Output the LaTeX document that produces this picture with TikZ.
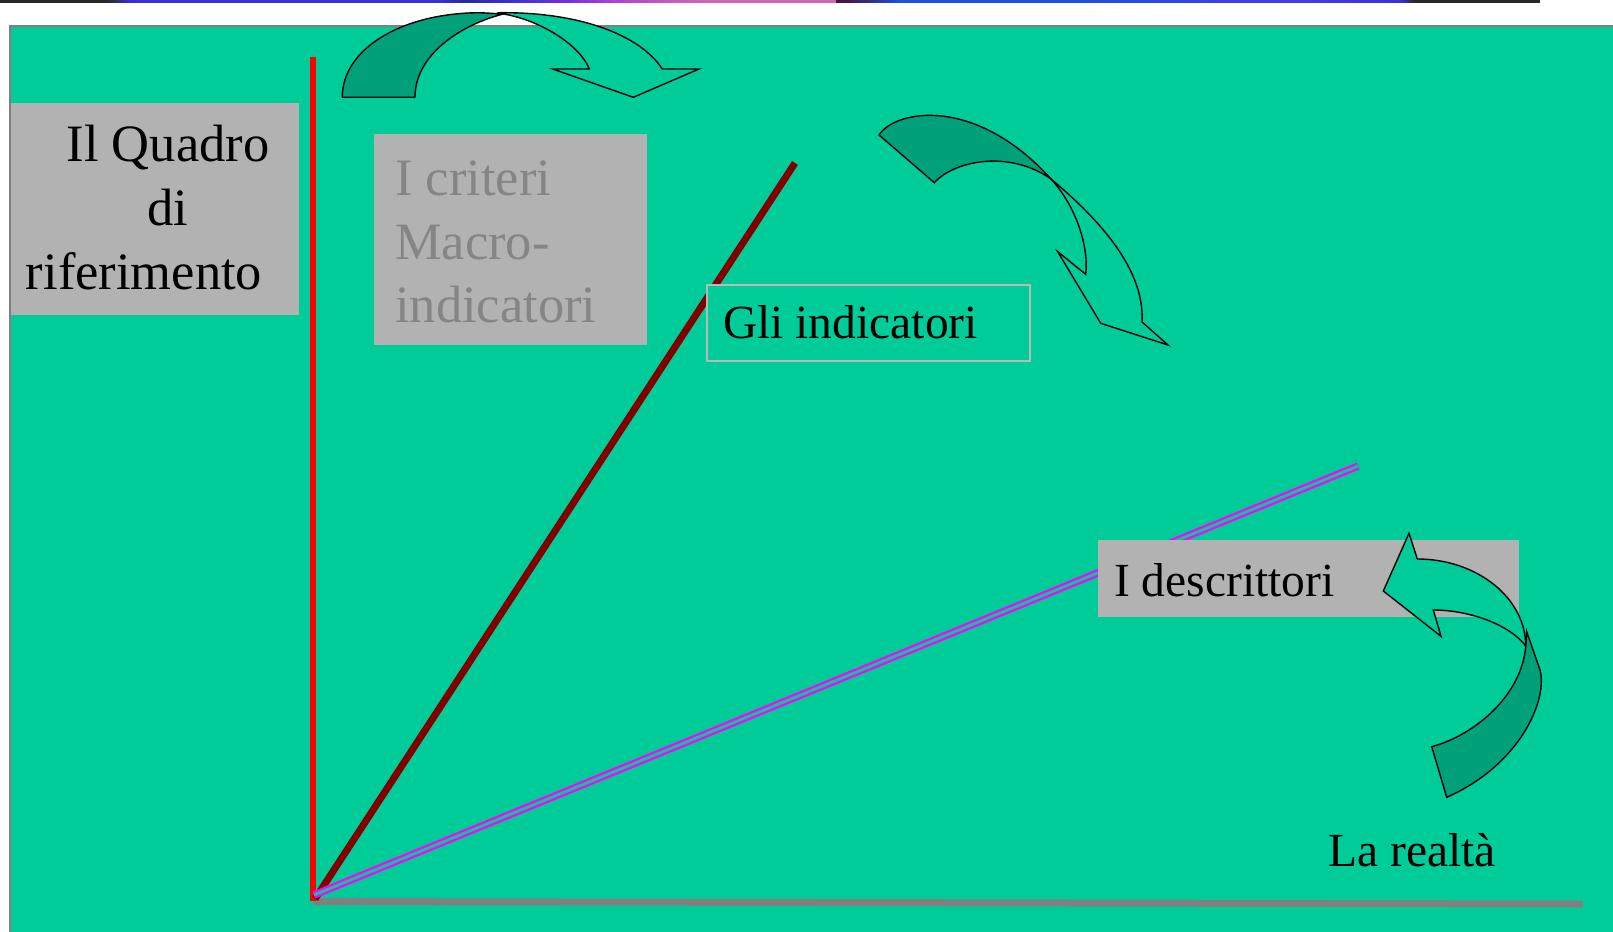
\documentclass[tikz,border=0pt]{standalone}
\usepackage{fontspec}
\setmainfont{Liberation Serif}
\definecolor{bggreen}{RGB}{0,204,153}
\definecolor{arrowgreen}{RGB}{0,160,122}
\definecolor{boxgray}{RGB}{178,178,178}
\definecolor{critgray}{RGB}{133,133,133}
\definecolor{edgegray}{RGB}{185,185,185}
\definecolor{panelgray}{RGB}{128,128,128}
\definecolor{axisgray}{RGB}{128,128,128}
\definecolor{axisred}{RGB}{255,0,0}
\definecolor{maroonline}{RGB}{128,0,0}
\definecolor{magline}{RGB}{255,0,255}
\definecolor{bandgray}{RGB}{40,40,40}
\definecolor{bandblue}{RGB}{58,48,216}
\definecolor{banddkblue}{RGB}{40,40,150}
\definecolor{bandviolet}{RGB}{120,48,224}
\definecolor{bandmag}{RGB}{176,64,208}
\definecolor{bandpink}{RGB}{208,100,184}
\definecolor{banddkpurple}{RGB}{70,20,70}
\definecolor{bandblueb}{RGB}{32,80,224}
\definecolor{bandvioletb}{RGB}{70,60,230}
\begin{document}
\begin{tikzpicture}[x=1pt,y=-1pt,
  bigtxt/.style={font=\fontsize{52.5}{63.7}\selectfont, inner sep=0pt},
  midtxt/.style={font=\fontsize{47.5}{57}\selectfont, inner sep=0pt, anchor=base west},
  graybox/.style={fill=boxgray, draw=none, inner sep=0pt, anchor=north west},
  arrowdark/.style={fill=arrowgreen, draw=black, line width=1.4pt, line join=miter},
  arrowlight/.style={fill=bggreen, draw=black, line width=1.4pt, line join=miter},
  bandseg/.style={draw=none}
]
\useasboundingbox (0,0) rectangle (1613,931);
\clip (0,0) rectangle (1613,931);
\fill[white] (0,0) rectangle (1613,931);
% top colour band
\fill[bandgray] (0,0) rectangle (107,3);
\shade[bandseg, left color=bandgray, right color=bandblue] (107,0) rectangle (130,3);
\fill[bandblue] (130,0) rectangle (440,3);
\shade[bandseg, left color=bandblue, right color=banddkblue] (440,0) rectangle (465,3);
\shade[bandseg, left color=banddkblue, right color=bandblue] (465,0) rectangle (510,3);
\shade[bandseg, left color=bandblue, right color=bandviolet] (510,0) rectangle (571,3);
\shade[bandseg, left color=bandviolet, right color=bandmag] (571,0) rectangle (612,3);
\shade[bandseg, left color=bandmag, right color=bandpink] (612,0) rectangle (700,3);
\fill[bandpink] (700,0) rectangle (836,3);
\fill[banddkpurple] (836,0) rectangle (846,3);
\shade[bandseg, left color=banddkpurple, right color=bandblueb] (846,0) rectangle (900,3);
\fill[bandblueb] (900,0) rectangle (1080,3);
\shade[bandseg, left color=bandblueb, right color=bandvioletb] (1080,0) rectangle (1300,3);
\shade[bandseg, left color=bandvioletb, right color=bandblue] (1300,0) rectangle (1400,3);
\shade[bandseg, left color=bandblue, right color=bandgray] (1400,0) rectangle (1415,3);
\fill[bandgray] (1415,0) rectangle (1540,3);
% panel
\draw[fill=bggreen, draw=panelgray, line width=2pt] (9.5,26) rectangle (1630,950);
% axes and lines
\coordinate (redtop) at (313,57);
\coordinate (redbot) at (313,901);
\coordinate (grayleft) at (314,901.5);
\coordinate (grayright) at (1583,904);
\coordinate (marbot) at (315,899);
\coordinate (martop) at (795,163);
\coordinate (magbot) at (314,895);
\coordinate (magtop) at (1358,466);
\draw[axisgray, line width=7pt] (grayleft) -- (grayright);
\draw[axisred, line width=6pt] (redtop) -- (redbot);
\draw[maroonline, line width=7pt] (marbot) -- (martop);
\draw[magline, double=bggreen, line width=2.3pt, double distance=2.8pt] (magbot) -- (magtop);
% boxes
\node[graybox, minimum width=288pt, minimum height=212pt] (quadrobox) at (11,103) {};
\node[bigtxt, align=center, anchor=base] (quadrotxt) at (168,289) {Il Quadro\\di\\riferimento\hbox to 48pt{}};
\node[graybox, minimum width=273pt, minimum height=211pt] (critbox) at (374,134) {};
\node[bigtxt, align=left, anchor=base west, text=critgray] (crittxt) at (395,322.7) {I criteri\\Macro-\\indicatori};
\node[fill=bggreen, draw=edgegray, line width=1.5pt, inner sep=0pt, anchor=north west, minimum width=323pt, minimum height=76pt] (glibox) at (706,284) {};
\node[midtxt] (glitxt) at (723,338.3) {Gli indicatori};
\node[graybox, minimum width=421pt, minimum height=77pt] (descbox) at (1097.6,540) {};
\node[midtxt] (desctxt) at (1114,596.8) {I descrittori};
\node[midtxt] (realtxt) at (1328,866.5) {La realtà};
% arrow 1 (top)
\draw[arrowdark] (342.3,97.3) .. controls (342,50) and (400,13) .. (480,12.7) -- (503.3,14) .. controls (460,25) and (415,55) .. (415,97.3) -- cycle;
\draw[arrowlight] (500,12.7) .. controls (580,12) and (640,35) .. (662.3,69) -- (699,69) -- (633.3,97.3) -- (552.7,69) -- (589.3,69) .. controls (580,45) and (540,20) .. (503.3,14) -- cycle;
% arrow 2 (middle)
\draw[arrowdark] (879,135) .. controls (895,110) and (975,95) .. (1051,179) .. controls (1010,150) and (955,160) .. (934.3,182.7) -- cycle;
\draw[arrowlight] (1051,179) .. controls (1100,220) and (1145,270) .. (1142,322) -- (1168,345) -- (1100.7,323.3) -- (1057.7,251.7) -- (1085.7,274.3) .. controls (1089,245) and (1075,205) .. (1051,179) -- cycle;
% arrow 3 (lower right)
\draw[arrowdark] (1526.7,631.7) -- (1540,670) .. controls (1548,700) and (1520,765) .. (1446.7,797.3) -- (1431.7,746.7) .. controls (1475,735) and (1522,695) .. (1525.7,646) -- cycle;
\draw[arrowlight] (1409,533.3) -- (1417.3,559) .. controls (1477,559) and (1525.7,598) .. (1525.7,646) .. controls (1510,625) and (1470,610) .. (1433.3,610) -- (1441,636.3) -- (1383.3,591) -- cycle;
\end{tikzpicture}
\end{document}
